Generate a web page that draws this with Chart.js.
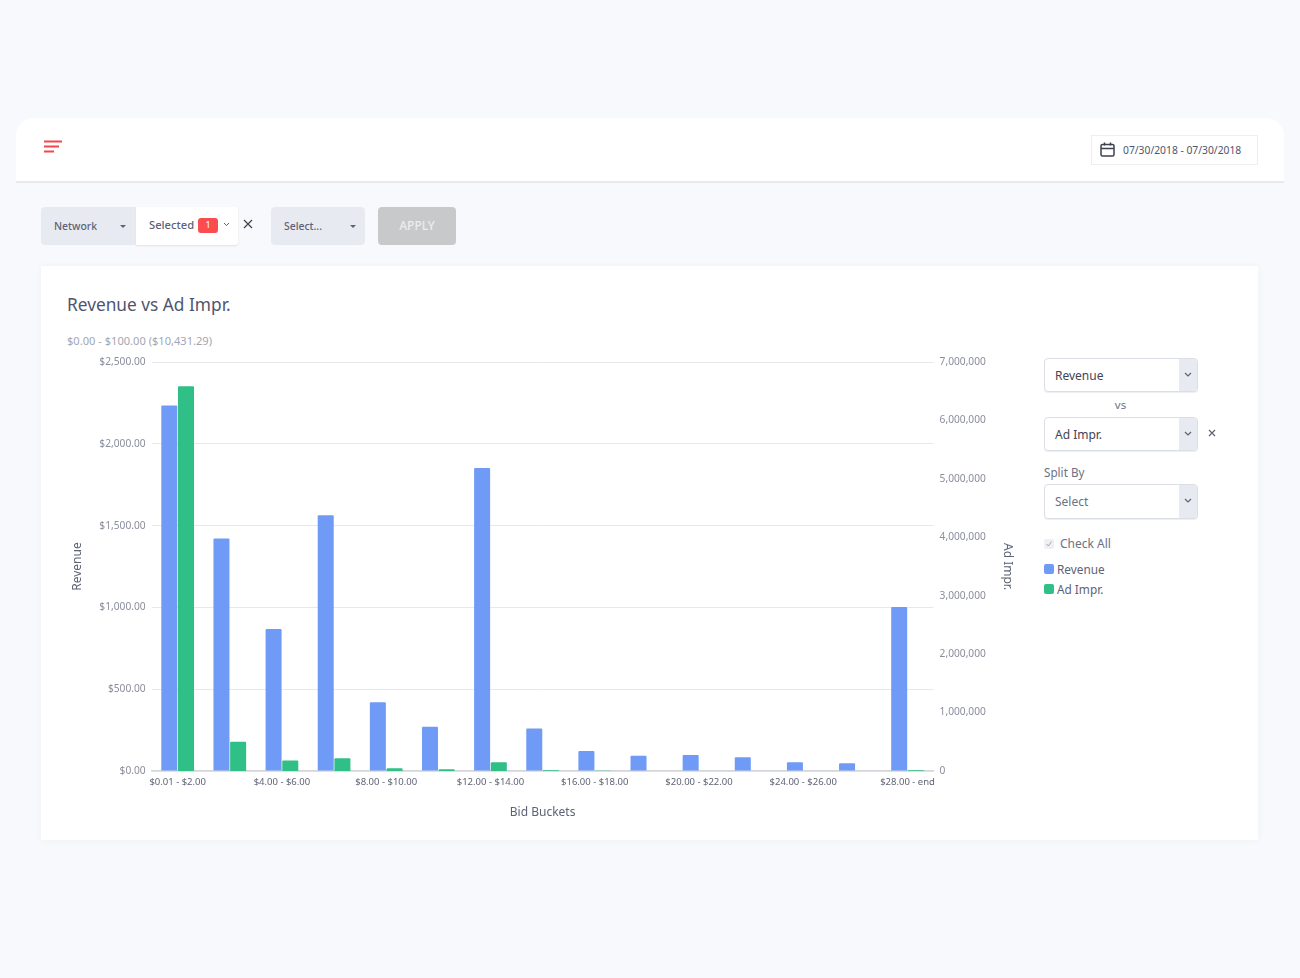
<!DOCTYPE html>
<html lang="en">
<head>
    <meta charset="UTF-8">
    <title>Revenue vs Ad Impr.</title>
    <script src="https://cdn.jsdelivr.net/npm/chart.js"></script>
    <style>
        html, body { margin: 0; padding: 0; }
        body { width: 1300px; height: 978px; background: #f8f9fc; font-family: "Noto Sans", sans-serif; position: relative; overflow: hidden; color: #5d6275; }
        .abs { position: absolute; box-sizing: border-box; white-space: nowrap; }
        .grey { background: #e8eaf1; border-radius: 4px; }
        .caret { width: 0; height: 0; border-left: 3px solid transparent; border-right: 3px solid transparent; border-top: 3px solid #5d6275; }
        .select { left: 1044px; width: 154px; background: #fff; border: 1px solid #dcdee5; border-radius: 4px; font-size: 12px; line-height: 33px; padding-left: 10px; color: #3f4456; box-shadow: 0 1px 1px #eceef2; }
        .select i { position: absolute; right: 0; top: 0; bottom: 0; width: 18px; background: #e8eaf1; border-radius: 0 3px 3px 0; }
        .select svg { position: absolute; right: 5px; top: 13px; }
        .legend-row { left: 1044px; font-size: 11.8px; line-height: 16px; color: #5d6275; }
        .legend-row b { display: inline-block; width: 10px; height: 10px; border-radius: 2px; margin-right: 3px; vertical-align: 0; }
    </style>
</head>
<body>
    <!-- barra superior -->
    <div class="abs" style="left:16px;top:118px;width:1268px;height:65px;background:#fff;border-radius:18px 18px 0 0;border-bottom:2px solid #e7e9ed;"></div>
    <svg class="abs" style="left:43px;top:139px;" width="20" height="15">
        <path d="M1 2.5H19M1 7.5H16M1 12.5H11" stroke="#f4474c" stroke-width="2" fill="none"/>
    </svg>
    <div class="abs" style="left:1091px;top:135px;width:167px;height:30px;background:#fff;border:1px solid #eceef1;"></div>
    <svg class="abs" style="left:1100px;top:142px;" width="15" height="15" viewBox="0 0 15 15">
        <rect x="1" y="2.5" width="13" height="11.5" rx="1.5" stroke="#3e4250" stroke-width="1.5" fill="none"/>
        <path d="M1 6.5H14M4.5 0.5V3.5M10.5 0.5V3.5" stroke="#3e4250" stroke-width="1.5" fill="none"/>
    </svg>
    <div class="abs" style="left:1123px;top:142px;font-size:10.3px;line-height:16px;color:#50556a;">07/30/2018 - 07/30/2018</div>

    <!-- filtros -->
    <div class="abs grey" style="left:41px;top:207px;width:100px;height:38px;"></div>
    <div class="abs" style="left:54px;top:218px;font-size:10.4px;line-height:16px;font-weight:500;">Network</div>
    <div class="abs caret" style="left:120px;top:225px;"></div>
    <div class="abs" style="left:136px;top:207px;width:102px;height:38px;background:#fff;border-radius:0 3px 3px 0;box-shadow:0 1px 2px #dfe1e7;"></div>
    <div class="abs" style="left:149px;top:217px;font-size:11.2px;line-height:16px;font-weight:500;">Selected</div>
    <div class="abs" style="left:198px;top:218px;width:20px;height:15px;background:#fb4d4f;border-radius:3px;color:#fff;font-size:9px;line-height:14px;text-align:center;">1</div>
    <svg class="abs" style="left:223px;top:222px;" width="7" height="5"><path d="M1 1L3.5 3.5L6 1" stroke="#5d6275" stroke-width="1" fill="none"/></svg>
    <svg class="abs" style="left:243px;top:219px;" width="10" height="10"><path d="M1 1L9 9M9 1L1 9" stroke="#3e4250" stroke-width="1.2" fill="none"/></svg>
    <div class="abs grey" style="left:271px;top:207px;width:94px;height:38px;"></div>
    <div class="abs" style="left:284px;top:218px;font-size:10.4px;line-height:16px;font-weight:500;">Select...</div>
    <div class="abs caret" style="left:350px;top:225px;"></div>
    <div class="abs" style="left:378px;top:207px;width:78px;height:38px;background:#c8c9cb;border-radius:4px;color:#eceded;font-size:12px;line-height:38px;text-align:center;font-weight:500;">APPLY</div>

    <!-- tarjeta de la grafica -->
    <div class="abs" style="left:41px;top:266px;width:1217px;height:574px;background:#fff;box-shadow:0 0 6px #eef0f4;"></div>
    <div class="abs" style="left:67px;top:293px;font-size:17.3px;line-height:24px;color:#4f556f;">Revenue vs Ad Impr.</div>
    <div class="abs" style="left:67px;top:333px;font-size:11.1px;line-height:16px;color:#a3a6b2;">$0.00 - $100.00 ($10,431.29)</div>

    <div class="abs" style="left:60px;top:350px;width:960px;height:480px;">
        <canvas id="revenueChart" width="960" height="480"></canvas>
    </div>

    <!-- controles de la derecha -->
    <div class="abs select" style="top:358px;height:34px;">Revenue<i></i><svg width="8" height="6"><path d="M1 1L4 4L7 1" stroke="#5d6275" stroke-width="1.2" fill="none"/></svg></div>
    <div class="abs" style="left:1043px;width:155px;top:397px;text-align:center;font-size:11.5px;line-height:16px;color:#6d7183;">vs</div>
    <div class="abs select" style="top:417px;height:34px;">Ad Impr.<i></i><svg width="8" height="6"><path d="M1 1L4 4L7 1" stroke="#5d6275" stroke-width="1.2" fill="none"/></svg></div>
    <svg class="abs" style="left:1208px;top:429px;" width="8" height="8"><path d="M1 1L7 7M7 1L1 7" stroke="#5d6275" stroke-width="1.2" fill="none"/></svg>
    <div class="abs" style="left:1044px;top:464px;font-size:11.7px;line-height:16px;color:#6d7183;">Split By</div>
    <div class="abs select" style="top:484px;height:35px;color:#6d7183;line-height:34px;">Select<i></i><svg width="8" height="6"><path d="M1 1L4 4L7 1" stroke="#5d6275" stroke-width="1.2" fill="none"/></svg></div>
    <div class="abs" style="left:1044px;top:539px;width:10px;height:10px;background:#eef0f3;border-radius:2px;"></div>
    <svg class="abs" style="left:1045px;top:540px;" width="8" height="8"><path d="M1.5 4L3.3 6L6.5 1.5" stroke="#a3a6b2" stroke-width="1" fill="none"/></svg>
    <div class="abs" style="left:1060px;top:536px;font-size:12px;line-height:16px;color:#6d7183;">Check All</div>
    <div id="legendBox"></div>

    <script>
        // Datos
        var buckets = ['$0.01 - $2.00', '$2.00 - $4.00', '$4.00 - $6.00', '$6.00 - $8.00', '$8.00 - $10.00',
            '$10.00 - $12.00', '$12.00 - $14.00', '$14.00 - $16.00', '$16.00 - $18.00', '$18.00 - $20.00',
            '$20.00 - $22.00', '$22.00 - $24.00', '$24.00 - $26.00', '$26.00 - $28.00', '$28.00 - end'];
        var revenue = [2235, 1422, 868, 1564, 420, 270, 1853, 260, 123, 94, 98, 84, 53, 47, 1003];
        var adImpr = [6586000, 500000, 178000, 219000, 46000, 29000, 150000, 14000, 3000, 2000, 2000, 2000, 1000, 1000, 14000];
        var seriesNames = ['Revenue', 'Ad Impr.'];
        var seriesColors = ['#6f9bf7', '#30bf87'];

        // Leyenda en html, como en el panel original
        var legendTops = [560.5, 581];
        var legendHtml = '';
        for (var i = 0; i < seriesNames.length; i++) {
            legendHtml += '<div class="abs legend-row" style="top:' + legendTops[i] + 'px"><b style="background:' + seriesColors[i] + '"></b>' + seriesNames[i] + '</div>';
        }
        document.getElementById('legendBox').innerHTML = legendHtml;

        var tickFont = { family: 'Noto Sans', size: 10.2 };
        var xTickFont = { family: 'Noto Sans', size: 9.5 };
        var titleFont = { family: 'Noto Sans', size: 12 };

        var revenueChart = new Chart(document.getElementById('revenueChart').getContext('2d'), {
            type: 'bar',
            data: {
                labels: buckets,
                datasets: [{
                    label: seriesNames[0],
                    data: revenue,
                    backgroundColor: seriesColors[0],
                    yAxisID: 'yRevenue',
                    borderRadius: { topLeft: 1, topRight: 1 },
                    categoryPercentage: 0.64,
                    barPercentage: 0.96
                }, {
                    label: seriesNames[1],
                    data: adImpr,
                    backgroundColor: seriesColors[1],
                    yAxisID: 'yImpr',
                    borderRadius: { topLeft: 1, topRight: 1 },
                    categoryPercentage: 0.64,
                    barPercentage: 0.96
                }]
            },
            options: {
                responsive: false,
                animation: false,
                layout: { padding: { top: 12 } },
                plugins: { legend: { display: false }, tooltip: { enabled: false } },
                scales: {
                    x: {
                        grid: { display: false, drawTicks: false },
                        border: { color: '#d4d6dc', width: 1.5 },
                        afterFit: function (scale) { scale.height = 59; },
                        ticks: {
                            autoSkip: false,
                            maxRotation: 0,
                            padding: 6,
                            color: '#5f6376',
                            font: xTickFont,
                            // solo una de cada dos etiquetas
                            callback: function (value, index) {
                                return index % 2 === 0 ? this.getLabelForValue(value) : '';
                            }
                        },
                        title: { display: true, text: 'Bid Buckets', color: '#5d6275', font: titleFont, padding: { top: 3, bottom: 10 } }
                    },
                    yRevenue: {
                        position: 'left',
                        min: 0,
                        max: 2500,
                        grid: { color: '#e6e8ec', drawTicks: false },
                        border: { display: false },
                        afterFit: function (scale) { scale.width = 91.6; },
                        ticks: {
                            stepSize: 500,
                            padding: 6,
                            color: '#8a8d9c',
                            font: tickFont,
                            callback: function (value) {
                                return '$' + value.toLocaleString('en-US', { minimumFractionDigits: 2 });
                            }
                        },
                        title: { display: true, text: 'Revenue', color: '#5d6275', font: titleFont, padding: { top: 10, bottom: 0 } }
                    },
                    yImpr: {
                        position: 'right',
                        min: 0,
                        max: 7000000,
                        grid: { display: false, drawTicks: false },
                        border: { display: false },
                        afterFit: function (scale) { scale.width = 86.4; },
                        ticks: {
                            stepSize: 1000000,
                            padding: 6,
                            color: '#8a8d9c',
                            font: tickFont,
                            callback: function (value) { return value.toLocaleString('en-US'); }
                        },
                        title: { display: true, text: 'Ad Impr.', color: '#5d6275', font: titleFont, padding: { top: 5, bottom: 0 } }
                    }
                }
            }
        });
    </script>
</body>
</html>
